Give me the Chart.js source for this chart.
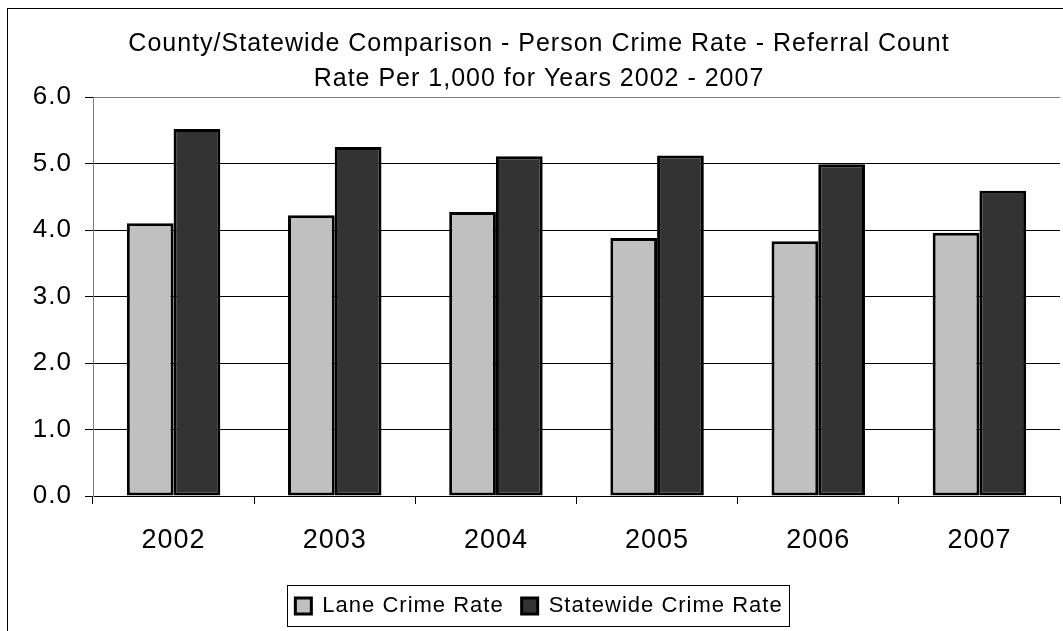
<!DOCTYPE html>
<html>
<head>
    <title>County/Statewide Comparison - Person Crime Rate</title>
    <script src="https://cdn.jsdelivr.net/npm/chart.js"></script>
    <style>
        body {
            margin: 0;
            background: white;
            overflow: hidden;
        }
        canvas { display: block; }
    </style>
</head>
<body>
    <canvas id="crimeChart" width="1063" height="631"></canvas>

    <script>
        // Data
        const years = ['2002', '2003', '2004', '2005', '2006', '2007'];
        const laneRate = [4.10, 4.22, 4.27, 3.88, 3.83, 3.96];
        const statewideRate = [5.52, 5.25, 5.11, 5.12, 4.99, 4.59];
        const titleLines = [
            'County/Statewide Comparison - Person Crime Rate - Referral Count',
            'Rate Per 1,000 for Years 2002 - 2007'
        ];

        Chart.defaults.font.family = "'Liberation Sans', Arial, sans-serif";
        Chart.defaults.color = '#000';

        // the old picture has loose letter spacing everywhere
        const spacing = {
            id: 'spacing',
            beforeUpdate(chart) { chart.ctx.letterSpacing = '1px'; },
            beforeDraw(chart) { chart.ctx.letterSpacing = '1px'; }
        };

        // outer frame and box round the legend
        const frames = {
            id: 'frames',
            afterDraw(chart) {
                const ctx = chart.ctx;
                ctx.save();
                ctx.strokeStyle = '#000';
                ctx.lineWidth = 1;
                ctx.strokeRect(7.5, 8.5, 1200, 800);

                const boxes = chart.legend.legendHitBoxes;
                if (boxes && boxes.length) {
                    const first = boxes[0], last = boxes[boxes.length - 1];
                    const left = Math.round(first.left - 8) + 0.5;
                    const right = Math.round(last.left + last.width + 6) + 0.5;
                    const top = Math.round(first.top - 10) + 0.5;
                    const bottom = Math.round(first.top + first.height + 9) + 0.5;
                    ctx.strokeRect(left, top, right - left, bottom - top);
                }
                ctx.restore();
            }
        };

        new Chart(document.getElementById('crimeChart'), {
            type: 'bar',
            data: {
                labels: years,
                datasets: [{
                    label: 'Lane Crime Rate',
                    data: laneRate,
                    backgroundColor: '#c0c0c0',
                    borderColor: '#000',
                    borderWidth: 3,
                    borderSkipped: false
                }, {
                    label: 'Statewide Crime Rate',
                    data: statewideRate,
                    backgroundColor: '#333333',
                    borderColor: '#000',
                    borderWidth: 3,
                    borderSkipped: false
                }]
            },
            options: {
                responsive: false,
                animation: false,
                categoryPercentage: 0.58,
                barPercentage: 1,
                layout: {
                    padding: { left: 18, right: 3, top: 0, bottom: 4 }
                },
                plugins: {
                    title: {
                        display: true,
                        text: titleLines,
                        color: '#000',
                        font: { size: 25, weight: 'normal', lineHeight: '35.5px' },
                        padding: { top: 26, bottom: 0 }
                    },
                    legend: {
                        position: 'bottom',
                        labels: {
                            boxWidth: 16,
                            boxHeight: 16,
                            padding: 18,
                            color: '#000',
                            font: { size: 22 }
                        }
                    },
                    tooltip: { enabled: false }
                },
                scales: {
                    x: {
                        afterFit(scale) { scale.height = 81; },
                        grid: {
                            offset: true,
                            drawOnChartArea: false,
                            drawTicks: true,
                            tickLength: 8,
                            tickColor: '#000'
                        },
                        border: { color: '#000', width: 1 },
                        ticks: {
                            padding: 20,
                            color: '#000',
                            font: { size: 27 }
                        }
                    },
                    y: {
                        min: 0,
                        max: 6,
                        afterFit(scale) { scale.width = 75; },
                        grid: {
                            color: ctx => ctx.tick && ctx.tick.value === 6 ? '#808080' : '#000',
                            tickColor: '#000',
                            tickLength: 8,
                            lineWidth: 1
                        },
                        border: { color: '#808080', width: 1 },
                        ticks: {
                            stepSize: 1,
                            padding: 13,
                            color: '#000',
                            font: { size: 26 },
                            callback: v => v.toFixed(1)
                        }
                    }
                }
            },
            plugins: [spacing, frames]
        });
    </script>
</body>
</html>
